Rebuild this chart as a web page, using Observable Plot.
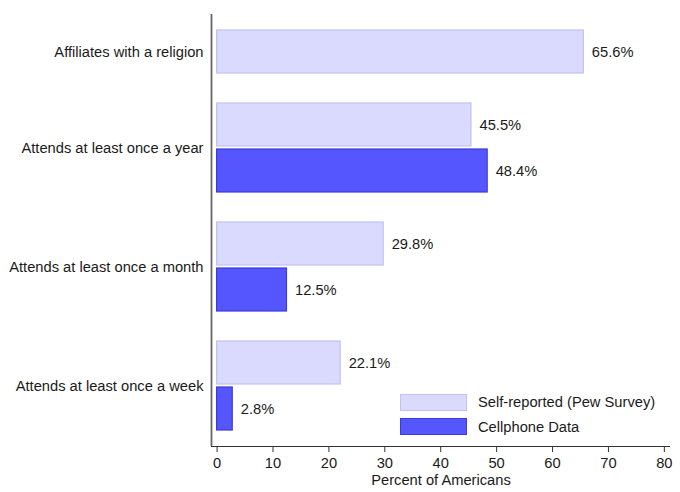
<!DOCTYPE html>
<html>
<head>
<meta charset="utf-8">
<script src="https://cdn.jsdelivr.net/npm/d3@7"></script>
<script src="https://cdn.jsdelivr.net/npm/@observablehq/plot@0.6"></script>
<style>
  html, body { margin: 0; padding: 0; background: #fff; }
  #wrap { position: relative; width: 680px; height: 492px; font-family: "Liberation Sans", Arial, sans-serif; }
  .legend { position: absolute; left: 400px; top: 390px; font-size: 14.7px; color: #1a1a1a; }
  .legend .row { display: flex; align-items: center; height: 24.5px; }
  .legend .sw { width: 67px; height: 17px; margin-right: 11px; box-sizing: border-box; }
</style>
</head>
<body>
<div id="wrap"></div>
<script>
const categories = [
  "Affiliates with a religion",
  "Attends at least once a year",
  "Attends at least once a month",
  "Attends at least once a week"
];
const seriesNames = ["Self-reported (Pew Survey)", "Cellphone Data"];
const selfReported = [65.6, 45.5, 29.8, 22.1];
const cellphone = [null, 48.4, 12.5, 2.8];
const xTicks = [0, 10, 20, 30, 40, 50, 60, 70, 80];
const colors = { fill: ["#dadaff", "#5656ff"], stroke: ["#c2c2f2", "#3b3bd8"] };

// layout in row units (one row = one bar slot)
const thick = 43 / 46, gap = 27 / 46, pad = 16 / 46;
const groupStart = g => Math.max(0, 2 * g - 1) + g * gap;

const rows = [];
categories.forEach((c, g) => {
  const s = groupStart(g);
  rows.push({ cat: c, series: 0, value: selfReported[g], y1: s, y2: s + thick });
  if (cellphone[g] != null) rows.push({ cat: c, series: 1, value: cellphone[g], y1: s + 1, y2: s + 1 + thick });
});
const centers = categories.map(c => {
  const r = rows.filter(d => d.cat === c);
  return (d3.min(r, d => d.y1) + d3.max(r, d => d.y2)) / 2;
});
const yMax = d3.max(rows, d => d.y2) + pad;
const FS = 14.7;

const chart = Plot.plot({
  width: 680,
  height: 492,
  marginLeft: 211,
  marginRight: 10,
  marginTop: 14,
  marginBottom: 46,
  style: { fontFamily: "'Liberation Sans', Arial, sans-serif", fontSize: FS + "px", color: "#1a1a1a", background: "#fff" },
  x: { domain: [-1, 81.1] },
  y: { domain: [-pad, yMax], reverse: true },
  marks: [
    Plot.rect(rows, {
      x1: 0, x2: "value", y1: "y1", y2: "y2",
      fill: d => colors.fill[d.series], stroke: d => colors.stroke[d.series], strokeWidth: 1.2
    }),
    Plot.text(rows, {
      x: "value", y: d => (d.y1 + d.y2) / 2, text: d => d.value.toFixed(1) + "%",
      textAnchor: "start", dx: 8, fontSize: FS, fill: "#1a1a1a"
    }),
    Plot.axisY({
      ticks: centers, tickSize: 0, tickPadding: 8, fontSize: FS,
      tickFormat: v => categories[centers.indexOf(v)], label: null
    }),
    Plot.axisX({
      ticks: xTicks, tickSize: 6, tickPadding: 5, fontSize: FS,
      label: "Percent of Americans", labelAnchor: "center", labelArrow: "none", labelOffset: 38, stroke: "#333"
    }),
    Plot.ruleY([yMax], { stroke: "#333", strokeWidth: 1.2 }),
    Plot.ruleX([-1], { stroke: "#666", strokeWidth: 1.8 })
  ]
});
const wrap = document.getElementById("wrap");
wrap.appendChild(chart);

const legend = document.createElement("div");
legend.className = "legend";
seriesNames.forEach((n, i) => {
  const row = document.createElement("div");
  row.className = "row";
  const sw = document.createElement("div");
  sw.className = "sw";
  sw.style.background = colors.fill[i];
  sw.style.border = "1.2px solid " + colors.stroke[i];
  row.appendChild(sw);
  row.appendChild(document.createTextNode(n));
  legend.appendChild(row);
});
wrap.appendChild(legend);
</script>
</body>
</html>
